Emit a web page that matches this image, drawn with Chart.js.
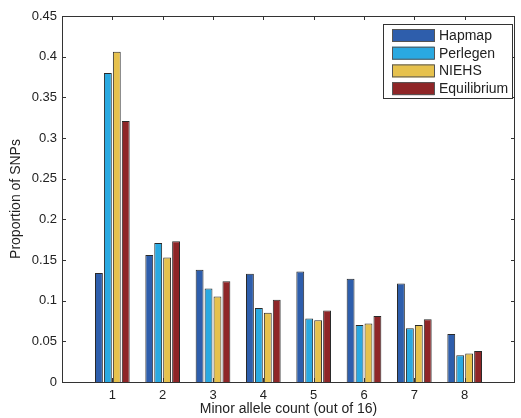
<!DOCTYPE html>
<html>
<head>
<meta charset="utf-8">
<script src="https://cdn.jsdelivr.net/npm/chart.js@4"></script>
<style>
  html, body { margin: 0; padding: 0; background: #fff; }
  #wrap { width: 521px; height: 418px; }
</style>
</head>
<body>
<div id="wrap"><canvas id="snpChart" width="521" height="418"></canvas></div>
<script>
// Minor allele count categories
const categories = ['1', '2', '3', '4', '5', '6', '7', '8'];

// Proportion of SNPs per data set
const hapmap       = [0.134, 0.156, 0.138, 0.133, 0.136, 0.127, 0.121, 0.059];
const perlegen     = [0.380, 0.171, 0.115, 0.091, 0.078, 0.070, 0.066, 0.033];
const niehs        = [0.406, 0.153, 0.105, 0.085, 0.076, 0.072, 0.070, 0.035];
const equilibrium  = [0.321, 0.173, 0.124, 0.101, 0.088, 0.081, 0.077, 0.038];

const yTicks = [0, 0.05, 0.1, 0.15, 0.2, 0.25, 0.3, 0.35, 0.4, 0.45];

// pad with empty slots so the axis runs from 0 to 9 like the original
const labels = [''].concat(categories, ['']);
const pad = arr => [null].concat(arr, [null]);

const family = '"Liberation Sans", Arial, sans-serif';
const tickFont = { family: family, size: 13 };
const titleFont = { family: family, size: 14 };

function series(label, data, color) {
    return {
        label: label,
        data: pad(data),
        backgroundColor: color,
        borderColor: '#2a2a2a',
        borderWidth: 1,
        categoryPercentage: 0.71,
        barPercentage: 0.88
    };
}

// inward ticks on all four sides plus the box, MATLAB style
const frame = {
    id: 'frame',
    afterDraw(chart) {
        const { ctx, chartArea: a, scales } = chart;
        ctx.save();
        ctx.strokeStyle = '#333';
        ctx.lineWidth = 1;
        ctx.beginPath();
        yTicks.forEach(v => {
            const y = Math.round(scales.y.getPixelForValue(v)) + 0.5;
            ctx.moveTo(a.left, y); ctx.lineTo(a.left + 4, y);
            ctx.moveTo(a.right, y); ctx.lineTo(a.right - 4, y);
        });
        categories.forEach((c, i) => {
            const x = Math.round(scales.x.getPixelForValue(i + 1)) + 0.5;
            ctx.moveTo(x, a.bottom); ctx.lineTo(x, a.bottom - 4);
            ctx.moveTo(x, a.top); ctx.lineTo(x, a.top + 4);
        });
        ctx.stroke();
        ctx.strokeRect(a.left + 0.5, a.top + 0.5, a.right - a.left - 1, a.bottom - a.top);
        ctx.restore();
    }
};

// boxed legend in the top right corner
const boxLegend = {
    id: 'boxLegend',
    afterDraw(chart) {
        const { ctx } = chart;
        const x0 = 383, y0 = 24, w = 129, h = 74;
        ctx.save();
        ctx.fillStyle = '#fff';
        ctx.fillRect(x0, y0, w, h);
        ctx.strokeStyle = '#333';
        ctx.lineWidth = 1;
        ctx.strokeRect(x0 + 0.5, y0 + 0.5, w, h);
        ctx.font = '14px ' + family;
        ctx.textBaseline = 'middle';
        chart.data.datasets.forEach((ds, i) => {
            const cy = y0 + 11 + i * 17.7;
            ctx.fillStyle = ds.backgroundColor;
            ctx.fillRect(x0 + 9, cy - 6, 42, 13);
            ctx.strokeStyle = '#555';
            ctx.strokeRect(x0 + 9.5, cy - 5.5, 42, 12);
            ctx.fillStyle = '#222';
            ctx.fillText(ds.label, x0 + 56, cy + 1);
        });
        ctx.restore();
    }
};

const ctx = document.getElementById('snpChart').getContext('2d');
const snpChart = new Chart(ctx, {
    type: 'bar',
    data: {
        labels: labels,
        datasets: [
            series('Hapmap', hapmap, '#2e5eac'),
            series('Perlegen', perlegen, '#2aa9e1'),
            series('NIEHS', niehs, '#e6c14d'),
            series('Equilibrium', equilibrium, '#8f2527')
        ]
    },
    options: {
        responsive: false,
        animation: false,
        layout: { padding: { top: 16, right: 2, left: 0, bottom: 0 } },
        plugins: {
            legend: { display: false },
            tooltip: { enabled: false }
        },
        scales: {
            x: {
                offset: false,
                grid: { display: false, drawTicks: false },
                border: { display: false },
                ticks: { color: '#222', font: tickFont, padding: 6, maxRotation: 0, autoSkip: false },
                title: { display: true, text: 'Minor allele count (out of 16)', color: '#222', font: titleFont, padding: { top: 0, bottom: 0 } },
                afterFit(scale) { scale.height = 36; }
            },
            y: {
                min: 0,
                max: 0.45,
                afterBuildTicks(scale) { scale.ticks = yTicks.map(v => ({ value: v })); },
                grid: { display: false, drawTicks: false },
                border: { display: false },
                ticks: { color: '#222', font: tickFont, padding: 5, callback: v => String(v) },
                title: { display: true, text: 'Proportion of SNPs', color: '#222', font: titleFont, padding: { top: 8, bottom: 4 } },
                afterFit(scale) { scale.width = 62; }
            }
        }
    },
    plugins: [frame, boxLegend]
});
</script>
</body>
</html>
